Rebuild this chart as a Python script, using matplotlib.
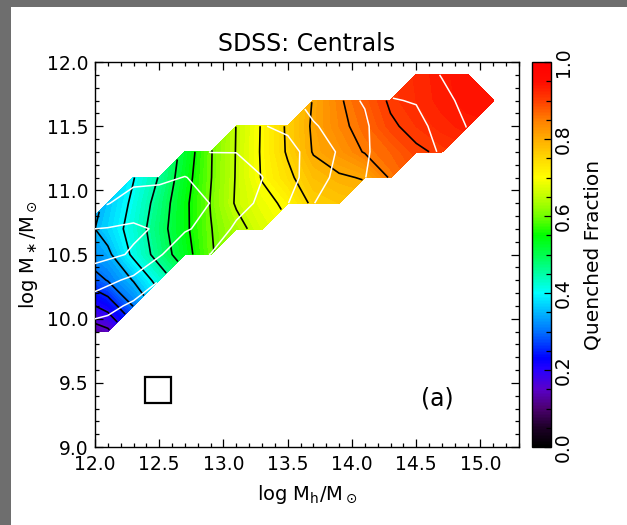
import numpy as np
import matplotlib
matplotlib.use("Agg")
import matplotlib.pyplot as plt
from matplotlib import cm
from matplotlib.colors import LinearSegmentedColormap, Normalize
from matplotlib.patches import Rectangle
from matplotlib.ticker import MultipleLocator, FormatStrFormatter

nan = np.nan

# grid nodes (bin centres) in halo mass and stellar mass
log_mh = [11.9, 12.1, 12.3, 12.5, 12.7, 12.9, 13.1, 13.3, 13.5,
          13.7, 13.9, 14.1, 14.3, 14.5, 14.7, 14.9, 15.1]
log_mstar = [9.9, 10.1, 10.3, 10.5, 10.7, 10.9, 11.1, 11.3, 11.5, 11.7, 11.9]

# quenched fraction per node, rows = log_mstar, cols = log_mh (nan = empty bin)
quenched_frac = [
    [0.12, 0.14] + [nan] * 15,
    [0.18, 0.22, 0.303] + [nan] * 14,
    [0.26, 0.303, 0.353, 0.42] + [nan] * 13,
    [0.31, 0.34, 0.41, 0.47, 0.53, 0.595] + [nan] * 11,
    [0.33, 0.37, 0.42, 0.48, 0.54, 0.598, 0.635, 0.67] + [nan] * 9,
    [nan, 0.36, 0.41, 0.47, 0.54, 0.602, 0.655, 0.685, 0.71, 0.76, 0.77] + [nan] * 6,
    [nan, nan, 0.398, 0.453, 0.53, 0.598, 0.653, 0.703, 0.74, 0.78, 0.795, 0.803, 0.855] + [nan] * 4,
    [nan] * 4 + [0.52, 0.597, 0.652, 0.705, 0.755, 0.803, 0.825, 0.853, 0.87, 0.895, 0.905, nan, nan],
    [nan] * 6 + [0.651, 0.704, 0.757, 0.807, 0.84, 0.865, 0.895, 0.91, 0.925, 0.935, nan],
    [nan] * 9 + [0.803, 0.845, 0.875, 0.905, 0.92, 0.935, 0.945, 0.948],
    [nan] * 13 + [0.922, 0.937, 0.946, nan],
]

# number density of galaxies (log units, arbitrary zero point)
log_density = [
    [5.6, 5.5] + [nan] * 15,
    [6.7, 6.3, 5.8] + [nan] * 14,
    [7.6, 7.2, 6.8, 6.02] + [nan] * 13,
    [8.4, 8.2, 7.9, 7.1, 6.3, 5.98] + [nan] * 11,
    [7.95, 8.05, 8.15, 7.9, 7.1, 6.7, 5.8, 5.2] + [nan] * 9,
    [nan, 6.95, 7.5, 7.5, 7.4, 6.98, 6.4, 5.8, 5.03, 4.03, 3.4] + [nan] * 6,
    [nan, nan, 6.7, 6.8, 7.03, 6.7, 6.5, 6.02, 5.4, 4.5, 3.7, 3.02, 2.5] + [nan] * 4,
    [nan] * 4 + [6.3, 5.98, 5.98, 5.7, 5.35, 4.6, 3.9, 3.1, 2.6, 2.4, 1.9, nan, nan],
    [nan] * 6 + [5.3, 5.05, 4.8, 4.1, 3.6, 3.1, 2.5, 2.25, 1.7, 0.95, nan],
    [nan] * 9 + [3.6, 3.2, 2.95, 2.05, 1.95, 1.3, 0.7, 0.4],
    [nan] * 13 + [1.5, 0.95, 0.5, nan],
]

fq_levels = [0.10, 0.15, 0.20, 0.25, 0.30, 0.35, 0.40, 0.45, 0.50,
             0.55, 0.60, 0.65, 0.70, 0.75, 0.80, 0.85, 0.90]
density_levels = [1, 2, 3, 4, 5, 6, 7, 8]

bin_size = 0.2
box_center = (12.49, 9.445)

cbar_ticks = [0.0, 0.2, 0.4, 0.6, 0.8, 1.0]

rainbow = LinearSegmentedColormap.from_list("idl_rainbow", [
    (0.00, (0.00, 0.00, 0.00)),
    (0.05, (0.12, 0.00, 0.16)),
    (0.10, (0.30, 0.00, 0.45)),
    (0.15, (0.35, 0.00, 0.80)),
    (0.20, (0.15, 0.00, 1.00)),
    (0.23, (0.00, 0.00, 1.00)),
    (0.30, (0.00, 0.45, 1.00)),
    (0.35, (0.00, 0.72, 1.00)),
    (0.40, (0.00, 1.00, 1.00)),
    (0.45, (0.00, 1.00, 0.65)),
    (0.50, (0.00, 1.00, 0.30)),
    (0.55, (0.00, 1.00, 0.00)),
    (0.60, (0.45, 1.00, 0.00)),
    (0.65, (0.75, 1.00, 0.00)),
    (0.70, (1.00, 1.00, 0.00)),
    (0.75, (1.00, 0.85, 0.00)),
    (0.80, (1.00, 0.68, 0.00)),
    (0.85, (1.00, 0.50, 0.00)),
    (0.90, (1.00, 0.25, 0.00)),
    (0.95, (1.00, 0.05, 0.00)),
    (1.00, (1.00, 0.00, 0.00)),
])

plt.rcParams["font.family"] = "DejaVu Sans"

W, H = 627, 525
fig = plt.figure(figsize=(W / 100, H / 100), dpi=100, facecolor="#6e6e6e")
fig.add_artist(Rectangle((11 / W, 0), 1, 1 - 7 / H, transform=fig.transFigure,
                         facecolor="white", edgecolor="none", zorder=-5))

ax = fig.add_axes([95 / W, 78 / H, 424 / W, 385 / H])

X, Y = np.meshgrid(log_mh, log_mstar)
fq = np.ma.masked_invalid(np.array(quenched_frac))
dens = np.ma.masked_invalid(np.array(log_density))

cf = ax.contourf(X, Y, fq, levels=np.linspace(0, 1, 101), cmap=rainbow,
                 vmin=0, vmax=1, corner_mask=True, zorder=1)
cf.set_edgecolor("face")
cf.set_linewidth(0.3)

ax.contour(X, Y, fq, levels=fq_levels, colors="black", linewidths=1.2,
           corner_mask=True, zorder=2)
ax.contour(X, Y, dens, levels=density_levels, colors="white", linewidths=1.1,
           corner_mask=True, zorder=3)

# bin size marker
ax.add_patch(Rectangle((box_center[0] - bin_size / 2, box_center[1] - bin_size / 2),
                       bin_size, bin_size, fill=False, edgecolor="black",
                       linewidth=1.6, zorder=4))

ax.text(0.807, 0.127, "(a)", transform=ax.transAxes, fontsize=17,
        ha="center", va="center")

ax.set_xlim(12.0, 15.3)
ax.set_ylim(9.0, 12.0)
ax.xaxis.set_major_locator(MultipleLocator(0.5))
ax.xaxis.set_minor_locator(MultipleLocator(0.1))
ax.yaxis.set_major_locator(MultipleLocator(0.5))
ax.yaxis.set_minor_locator(MultipleLocator(0.1))
ax.xaxis.set_major_formatter(FormatStrFormatter("%.1f"))
ax.yaxis.set_major_formatter(FormatStrFormatter("%.1f"))
ax.tick_params(which="both", direction="in", top=True, right=True,
               labelsize=13.5, width=0.9)
ax.tick_params(which="major", length=5.5)
ax.tick_params(which="minor", length=3)
ax.tick_params(axis="x", pad=6)
ax.tick_params(axis="y", pad=5)
for sp in ax.spines.values():
    sp.set_linewidth(1.0)

ax.set_xlabel(r"log M$_\mathrm{h}$/M$_\odot$", fontsize=14, labelpad=6)
ax.set_ylabel(r"log M$_\ast$/M$_\odot$", fontsize=14, labelpad=5)
ax.set_title("SDSS: Centrals", fontsize=17, pad=8)

# colour bar
cax = fig.add_axes([532 / W, 78 / H, 19 / W, 385 / H])
sm = cm.ScalarMappable(norm=Normalize(0, 1), cmap=rainbow)
cb = fig.colorbar(sm, cax=cax)
cb.set_ticks(cbar_ticks)
cb.ax.yaxis.set_major_formatter(FormatStrFormatter("%.1f"))
cb.ax.yaxis.set_minor_locator(MultipleLocator(0.05))
cb.ax.tick_params(which="both", direction="in", right=True, left=False,
                  labelsize=13.5, labelrotation=90, width=0.9, pad=2)
cb.ax.tick_params(which="major", length=5)
cb.ax.tick_params(which="minor", length=3.5)
for lbl in cb.ax.get_yticklabels():
    lbl.set_verticalalignment("center")
cb.outline.set_linewidth(1.0)
cb.set_label("Quenched Fraction", fontsize=14.5, labelpad=8)

fig.savefig("out.png", dpi=100, facecolor=fig.get_facecolor())
